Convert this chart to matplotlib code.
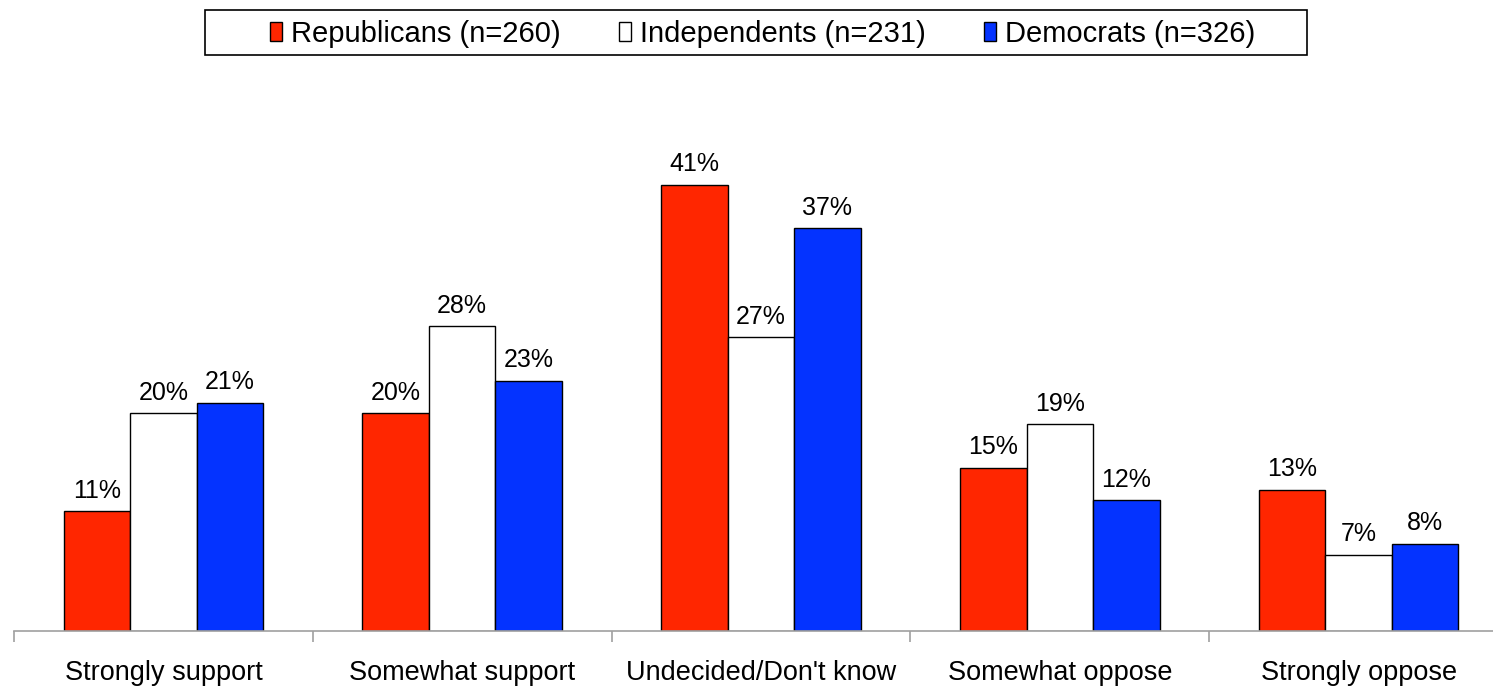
import numpy as np
import matplotlib.pyplot as plt
from matplotlib.ticker import FixedLocator
from matplotlib.patches import Rectangle

plt.rcParams['font.family'] = ['Liberation Sans', 'DejaVu Sans']

categories = ['Strongly support', 'Somewhat support', 'Undecided/Don\'t know',
              'Somewhat oppose', 'Strongly oppose']
republicans = [11, 20, 41, 15, 13]
independents = [20, 28, 27, 19, 7]
democrats = [21, 23, 37, 12, 8]
series_names = ['Republicans (n=260)', 'Independents (n=231)', 'Democrats (n=326)']
colors = ['#FF2600', '#FFFFFF', '#0433FF']

fig = plt.figure(figsize=(14.93, 6.86), dpi=100)
ax = fig.add_axes([14 / 1493, 55 / 686, 1494 / 1493, 489.6 / 686])

x = np.arange(len(categories))
w = 0.2225
for i, (vals, name, c) in enumerate(zip([republicans, independents, democrats], series_names, colors)):
    pos = x + (i - 1) * w
    ax.bar(pos, vals, width=w, color=c, edgecolor='black', linewidth=1.0, label=name)
    for p, v in zip(pos, vals):
        ax.text(p, v + 0.8, f'{v}%', ha='center', va='bottom', fontsize=18)

ax.set_xlim(-0.5, len(categories) - 0.5)
ax.set_ylim(0, 45)
ax.set_yticks([])
for s in ['top', 'right', 'left']:
    ax.spines[s].set_visible(False)
ax.spines['bottom'].set_color('#a0a0a0')
ax.spines['bottom'].set_linewidth(1.2)

ax.set_xticks(x)
ax.set_xticklabels(categories, fontsize=19.5)
ax.tick_params(axis='x', which='major', length=0, pad=21)
ax.xaxis.set_minor_locator(FixedLocator(np.arange(-0.5, len(categories), 1.0)))
ax.tick_params(axis='x', which='minor', length=8, width=1.2, color='#a0a0a0', direction='out')

# legend without frame, box drawn separately (wider than the entries)
leg = fig.legend(loc='center', bbox_to_anchor=(0.5107, 0.9504), ncol=3, fontsize=21,
                 frameon=False, handlelength=0.42, handleheight=0.62,
                 handletextpad=0.3, columnspacing=2.0, borderpad=0, borderaxespad=0)
for h in leg.legend_handles:
    h.set_linewidth(1.0)

fig.patches.append(Rectangle((205 / 1493, 1 - 55 / 686), 1102 / 1493, 45 / 686,
                             transform=fig.transFigure, fill=False,
                             edgecolor='black', linewidth=1.2))

fig.savefig('out.png', dpi=100)
